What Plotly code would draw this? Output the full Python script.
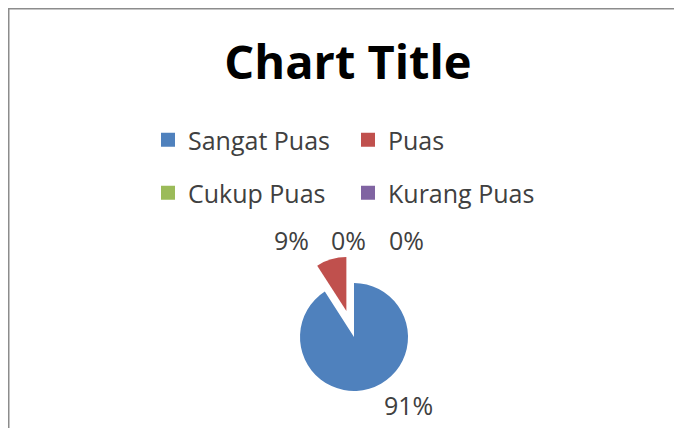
import plotly.graph_objects as go

categories = ["Sangat Puas", "Puas", "Cukup Puas", "Kurang Puas"]
values = [10, 1, 0, 0]
colors = ["#4F81BD", "#C0504D", "#9BBB59", "#8064A2"]
pulls = [0, 0.5, 0, 0]

W, H = 682, 428
OFF = 8  # page body margin


def px(x):
    return (x - OFF) / W


def py(y):
    return 1 - (y - OFF) / H


total = sum(values)
pct = [f"{round(v / total * 100)}%" for v in values]

FONT = "Open Sans"

fig = go.Figure()
fig.add_trace(go.Pie(
    labels=categories, values=values, sort=False, direction="clockwise",
    rotation=0, pull=pulls, marker=dict(colors=colors, line=dict(width=0)),
    textinfo="none", hoverinfo="label+percent", showlegend=False,
    domain=dict(x=[px(273), px(435)], y=[py(418), py(256)]),
))

legend_names = ["legend", "legend", "legend2", "legend2"]
for name, col, lg in zip(categories, colors, legend_names):
    fig.add_trace(go.Scatter(
        x=[None], y=[None], mode="markers", name=name, legend=lg,
        marker=dict(symbol="square", size=14, color=col),
    ))

leg_common = dict(orientation="h", xanchor="left", yanchor="middle",
                  font=dict(family=FONT, size=25, color="#404040"),
                  bgcolor="rgba(0,0,0,0)", entrywidth=155, entrywidthmode="pixels",
                  itemclick=False, itemdoubleclick=False)

# percentage labels
label_pos = [(408, 405), (291, 240), (348, 240), (406, 240)]
annotations = []
for t, (lx, ly) in zip(pct, label_pos):
    annotations.append(dict(text=t, x=px(lx), y=py(ly), xref="paper", yref="paper",
                            showarrow=False, xanchor="center", yanchor="middle",
                            font=dict(family=FONT, size=25, color="#404040")))

fig.update_layout(
    width=W, height=H, margin=dict(l=0, r=0, t=0, b=0),
    paper_bgcolor="white", plot_bgcolor="white",
    title=dict(text="Chart Title", x=px(348), xanchor="center", y=py(63), yanchor="middle",
               font=dict(family=FONT, size=47, color="#000000", weight="bold")),
    xaxis=dict(visible=False), yaxis=dict(visible=False),
    legend=dict(x=px(148), y=py(140), **leg_common),
    legend2=dict(x=px(148), y=py(193), **leg_common),
    annotations=annotations,
    shapes=[
        dict(type="line", xref="paper", yref="paper", x0=0, x1=1, y0=1, y1=1,
             line=dict(color="#8c8c8c", width=3)),
        dict(type="line", xref="paper", yref="paper", x0=0, x1=0, y0=0, y1=1,
             line=dict(color="#8c8c8c", width=3)),
    ],
)

fig.write_html("out.html")
